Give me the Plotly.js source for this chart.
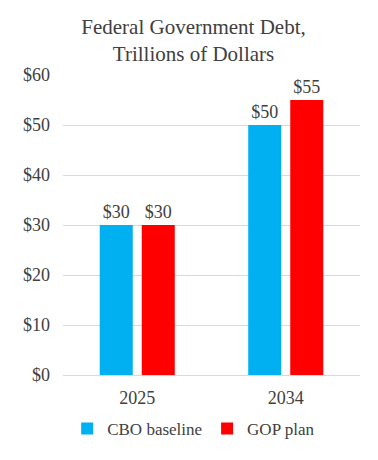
<!DOCTYPE html>
<html>
<head>
<meta charset="utf-8">
<script src="https://cdn.plot.ly/plotly-3.0.1.min.js"></script>
<style>html,body{margin:0;padding:0;background:#fff;}#chart{width:378px;height:460px;}</style>
</head>
<body>
<div id="chart"></div>
<script>
const categories = ["2025", "2034"];
const cboBaseline = [30, 50];
const gopPlan = [30, 55];
const seriesNames = ["CBO baseline", "GOP plan"];
const yTickVals = [0, 10, 20, 30, 40, 50, 60];
const yTickText = ["&#36;0", "&#36;10", "&#36;20", "&#36;30", "&#36;40", "&#36;50", "&#36;60"];

const fontFamily = "Liberation Serif";
const textColor = "#404040";

function labels(arr) { return arr.map(v => "&#36;" + v); }

const traces = [
  {
    type: "bar", name: seriesNames[0], x: categories, y: cboBaseline,
    marker: {color: "#00B0F0"},
    text: labels(cboBaseline), textposition: "outside", cliponaxis: false,
    textfont: {family: fontFamily, size: 18, color: textColor},
    hoverinfo: "none"
  },
  {
    type: "bar", name: seriesNames[1], x: categories, y: gopPlan,
    marker: {color: "#FF0000"},
    text: labels(gopPlan), textposition: "outside", cliponaxis: false,
    textfont: {family: fontFamily, size: 18, color: textColor},
    hoverinfo: "none"
  }
];

const layout = {
  width: 378, height: 460,
  margin: {l: 63, r: 18, t: 75, b: 85},
  paper_bgcolor: "#fff", plot_bgcolor: "#fff",
  font: {family: fontFamily, size: 16, color: textColor},
  title: {
    text: "Federal Government Debt,<br>Trillions of Dollars",
    font: {family: fontFamily, size: 21, color: textColor},
    x: 0.512, xanchor: "center", xref: "container", yref: "container", y: 0.927, yanchor: "middle"
  },
  barmode: "group",
  bargap: 0.434,
  bargroupgap: 0.214,
  showlegend: true,
  legend: {
    orientation: "h", x: 0.44, xanchor: "center", y: -0.12, yanchor: "top",
    font: {family: fontFamily, size: 17, color: textColor},
    itemwidth: 30, traceorder: "normal"
  },
  xaxis: {
    type: "category",
    showgrid: false, showline: true, linecolor: "#d9d9d9", linewidth: 1,
    ticks: "", tickfont: {family: fontFamily, size: 18, color: textColor},
    ticklabelstandoff: 6,
    fixedrange: true
  },
  yaxis: {
    range: [0, 60], tickvals: yTickVals, ticktext: yTickText,
    showgrid: true, gridcolor: "#d9d9d9", gridwidth: 1,
    zeroline: false, showline: false, ticks: "",
    tickfont: {family: fontFamily, size: 18, color: textColor},
    ticklabelstandoff: 12,
    fixedrange: true
  }
};

Plotly.newPlot("chart", traces, layout, {displayModeBar: false, staticPlot: true});
</script>
</body>
</html>
